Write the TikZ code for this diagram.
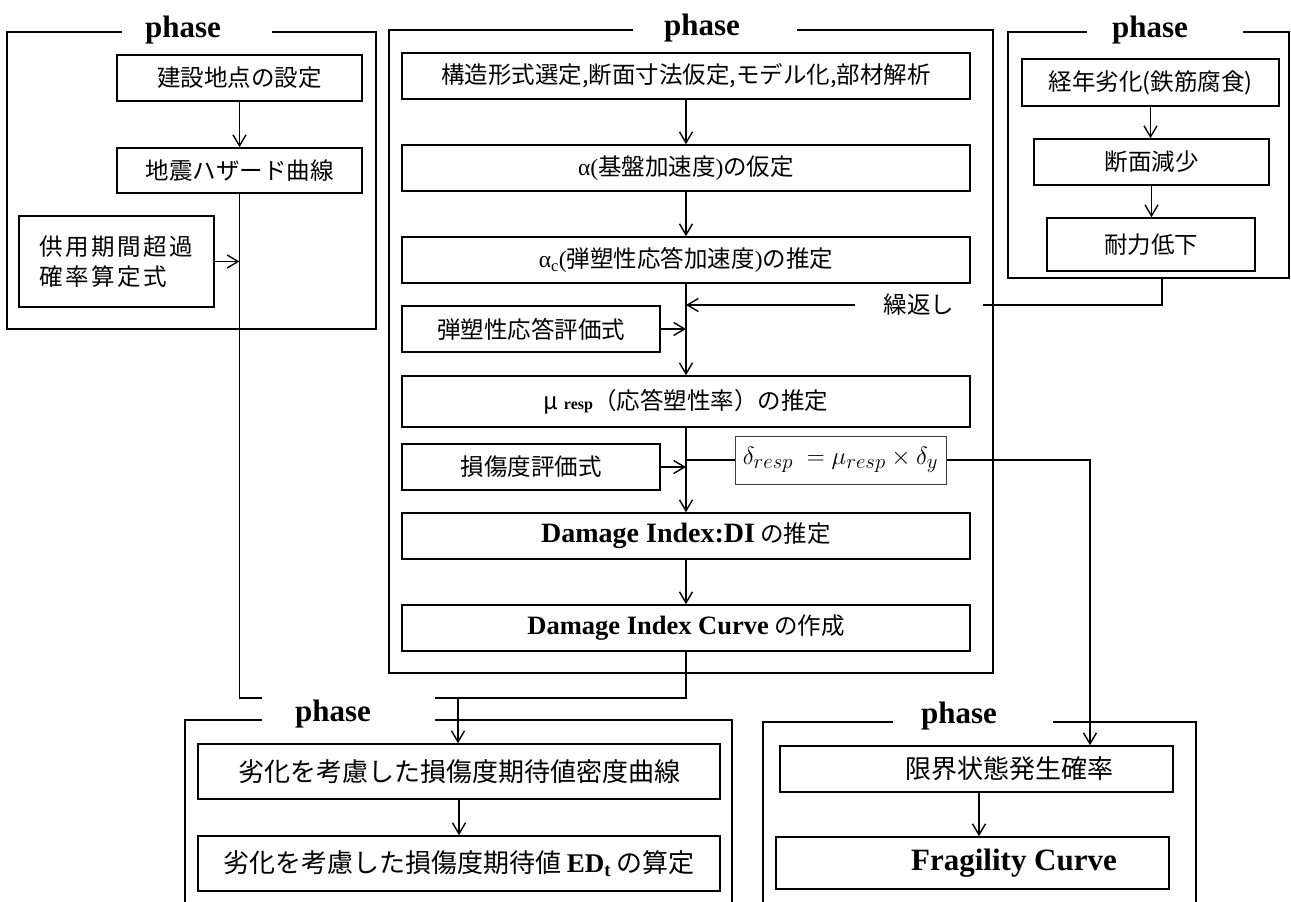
\documentclass[tikz,border=0pt]{standalone}
\usepackage{fontspec}
\setmainfont{Noto Sans CJK JP}
\newfontfamily\serif{Liberation Serif}
\usetikzlibrary{arrows.meta,calc}
\begin{document}
\begin{tikzpicture}[x=1pt,y=-1pt,
  box/.style={draw, line width=1.6pt, inner sep=0pt, font={\fontsize{23.5}{28}\selectfont}},
  wide/.style={box, minimum width=568pt, minimum height=46pt},
  big/.style={font={\fontsize{26}{30}\selectfont}},
  frame/.style={draw, line width=2.8pt, inner sep=0pt},
  conn/.style={line width=1.4pt},
  arr/.style={conn, -{Straight Barb[length=11pt,width=13pt]}},
  phaselbl/.style={fill=white, inner sep=0pt, minimum height=34pt, font={\serif\bfseries\fontsize{31}{31}\selectfont}}
]
\useasboundingbox (0,0) rectangle (1291,902);
\clip (0,0) rectangle (1291,902);

% frames
\node[frame, minimum width=369pt, minimum height=297pt] (F1) at (191.5,180.5) {};
\node[frame, minimum width=604pt, minimum height=643pt] (F2) at (691,351.5) {};
\node[frame, minimum width=281pt, minimum height=246pt] (F3) at (1148.5,155) {};
\node[frame, minimum width=547pt, minimum height=230pt] (F4) at (458.5,835) {};
\node[frame, minimum width=433pt, minimum height=228pt] (F5) at (979.5,836) {};

% left column
\node[box, minimum width=245pt, minimum height=46pt] (b1) at (239.5,78) {建設地点の設定};
\node[box, minimum width=245pt, minimum height=45pt] (b2) at (239.5,170.5) {地震ハザード曲線};
\node[box, minimum width=195pt, minimum height=91pt, align=left,
      font={\fontsize{23.5}{30}\selectfont\addfontfeature{LetterSpace=11}}] (b3) at (116.5,261.5) {供用期間超過\\確率算定式};

% middle column
\node[wide] (m1) at (686,76) {構造形式選定,断面寸法仮定,モデル化,部材解析};
\node[wide] (m2) at (686,168) {{\serif α(}基盤加速度{\serif )}の仮定};
\node[wide] (m3) at (686,260) {{\serif α\textsubscript{c}(}弾塑性応答加速度{\serif )}の推定};
\node[box, minimum width=258pt, minimum height=46pt] (m4) at (531,329) {弾塑性応答評価式};
\node[wide, minimum height=51pt] (m5) at (686,401.5) {μ {\serif\bfseries\fontsize{16}{16}\selectfont resp}（応答塑性率）の推定};
\node[box, minimum width=258pt, minimum height=46pt] (m6) at (531,467) {損傷度評価式};
\node[draw=black!75, line width=1pt, inner sep=0pt, minimum width=211pt, minimum height=48pt,
      font={\fontsize{29}{29}\selectfont}] (f) at (840.5,460) {$\delta_{resp}\;=\mu_{resp}\times\delta_y$};
\node[wide] (m7) at (686,536) {{\serif\bfseries\fontsize{28}{28}\selectfont Damage Index:DI} の推定};
\node[wide] (m8) at (686,628) {{\serif\bfseries\fontsize{26.5}{26.5}\selectfont Damage Index Curve} の作成};

% right column
\node[box, minimum width=257pt, minimum height=47pt] (r1) at (1150.5,82.5) {経年劣化(鉄筋腐食)};
\node[box, minimum width=235pt, minimum height=46pt] (r2) at (1151.5,162) {断面減少};
\node[box, minimum width=208pt, minimum height=53pt] (r3) at (1151,244.5) {耐力低下};
\node[inner sep=0pt, minimum width=128pt, minimum height=30pt, font={\fontsize{23.5}{28}\selectfont}] (kaeshi) at (919,305) {\raisebox{-3pt}{繰返し}};

% bottom left
\node[box, big, minimum width=522pt, minimum height=55pt] (bl1) at (459,771.5) {劣化を考慮した損傷度期待値密度曲線};
\node[box, big, minimum width=522pt, minimum height=55pt] (bl2) at (459,863.5) {劣化を考慮した損傷度期待値 {\serif\bfseries\fontsize{27}{27}\selectfont ED\textsubscript{t}} の算定};

% bottom right
\node[box, big, minimum width=393pt, minimum height=46pt] (br1) at (976.5,769) {\hspace*{65pt}限界状態発生確率};
\node[box, minimum width=393pt, minimum height=52pt] (br2) at (972.5,863) {\hspace*{83pt}{\serif\bfseries\fontsize{31}{31}\selectfont Fragility Curve}};

% connectors
\coordinate (jn) at (458,698);
\draw[arr] (b1) -- (b2);
\draw[arr] (b3.east) -- (b3.east -| b2.south);
\draw[conn] (b2.south) |- (jn);
\draw[conn] (m8.south) |- (jn);
\draw[arr] (jn) -- (bl1.north -| jn);
\draw[arr] (m1) -- (m2);
\draw[arr] (m2) -- (m3);
\draw[arr] (m3) -- (m5);
\draw[arr] (m5) -- (m7);
\draw[arr] (m7) -- (m8);
\draw[arr] (m4.east) -- (m4.east -| m3.south);
\draw[arr] (m6.east) -- (m6.east -| m3.south);
\draw[conn] (f.west -| m5.south) -- (f.west);
\draw[arr] (f.east) -| ([xshift=113.5pt]br1.north);
\draw[conn] ([xshift=13.5pt]F3.south) |- (kaeshi.east);
\draw[arr] (kaeshi.west) -- (kaeshi.west -| m3.south);
\draw[arr] (r1.south) -- (r1.south |- r2.north);
\draw[arr] (r2.south) -- (r2.south |- r3.north);
\draw[arr] (bl1) -- (bl2);
\draw[arr] ([xshift=2.5pt]br1.south) -- ([xshift=2.5pt]br1.south |- br2.north);

% phase labels
\node[phaselbl, minimum width=150pt] (p1) at (197,30) {phase\hspace*{28pt}};
\node[phaselbl, minimum width=164pt] (p2) at (715,28) {phase\hspace*{26pt}};
\node[phaselbl, minimum width=156pt] (p3) at (1165,30) {phase\hspace*{30pt}};
\node[phaselbl, minimum width=173pt] (p4) at (348.5,714) {phase\hspace*{31pt}};
\node[phaselbl, minimum width=160pt] (p5) at (973,716) {phase\hspace*{28pt}};
\end{tikzpicture}
\end{document}
